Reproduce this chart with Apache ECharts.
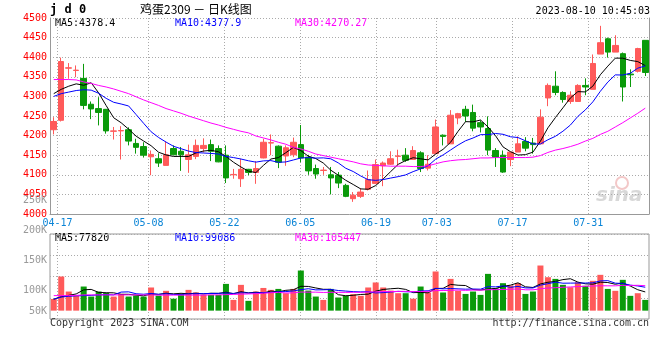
<!DOCTYPE html>
<html><head><meta charset="utf-8">
<script src="https://cdn.jsdelivr.net/npm/echarts@6/dist/echarts.min.js"></script>
<style>html,body{margin:0;padding:0;background:#fff}#c{width:660px;height:360px}</style>
</head><body><div id="c"></div>
<script>
const dates = ['04-14','04-17','04-18','04-19','04-20','04-21','04-24','04-25','04-26','04-27','04-28','05-04','05-05','05-08','05-09','05-10','05-11','05-12','05-15','05-16','05-17','05-18','05-19','05-22','05-23','05-24','05-25','05-26','05-29','05-30','05-31','06-01','06-02','06-05','06-06','06-07','06-08','06-09','06-12','06-13','06-14','06-15','06-16','06-19','06-20','06-21','06-26','06-27','06-28','06-29','06-30','07-03','07-04','07-05','07-06','07-07','07-10','07-11','07-12','07-13','07-14','07-17','07-18','07-19','07-20','07-21','07-24','07-25','07-26','07-27','07-28','07-31','08-01','08-02','08-03','08-04','08-07','08-08','08-09','08-10'];
const labelDates = ['04-17','05-08','05-22','06-05','06-19','07-03','07-17','07-31'];
const opens  = [4215,4239,4372,4366,4346,4280,4269,4267,4211,4212,4215,4180,4172,4146,4141,4124,4167,4160,4139,4147,4167,4177,4167,4150,4100,4090,4114,4106,4143,4181,4173,4148,4151,4177,4145,4116,4111,4100,4099,4073,4039,4045,4063,4078,4123,4127,4147,4150,4139,4156,4117,4154,4201,4179,4245,4267,4259,4233,4218,4162,4150,4139,4158,4185,4181,4179,4296,4326,4310,4287,4287,4328,4318,4408,4447,4413,4409,4357,4364,4443];
const closes = [4236,4389,4373,4367,4277,4268,4259,4212,4212,4213,4186,4170,4150,4152,4130,4151,4151,4151,4151,4175,4175,4160,4133,4092,4101,4114,4106,4116,4183,4182,4132,4169,4183,4143,4110,4102,4112,4092,4079,4045,4048,4056,4088,4126,4130,4141,4148,4137,4162,4116,4127,4222,4198,4252,4256,4250,4219,4222,4163,4145,4107,4158,4179,4168,4177,4247,4328,4310,4292,4303,4328,4324,4384,4437,4413,4430,4324,4355,4422,4361];
const lows   = [4203,4236,4345,4349,4267,4242,4226,4205,4190,4139,4175,4154,4144,4099,4120,4124,4151,4110,4105,4140,4157,4135,4132,4079,4090,4069,4099,4077,4142,4150,4117,4123,4145,4132,4100,4090,4100,4050,4066,4043,4031,4041,4060,4076,4071,4125,4124,4133,4139,4107,4111,4153,4175,4179,4229,4235,4211,4208,4150,4120,4105,4122,4158,4160,4154,4179,4275,4303,4284,4281,4287,4303,4318,4408,4399,4413,4287,4324,4361,4352];
const highs  = [4247,4399,4385,4379,4383,4287,4298,4268,4222,4224,4221,4192,4183,4162,4155,4185,4175,4171,4177,4190,4193,4190,4175,4175,4115,4141,4115,4135,4192,4203,4175,4175,4195,4227,4151,4126,4120,4120,4107,4077,4056,4066,4111,4139,4134,4160,4164,4168,4173,4160,4150,4241,4203,4265,4258,4276,4279,4239,4249,4168,4162,4158,4198,4196,4194,4267,4333,4364,4313,4313,4331,4346,4407,4480,4450,4456,4412,4369,4424,4443];
const ma5Early  = [4307,4318,4326,4332];
const ma10Early = [4300,4307,4311,4315,4317,4316,4308,4295,4285];
const ma30Line  = [4343,4343,4343,4342,4337,4333,4328,4324,4319,4313,4307,4299,4291,4284,4277,4269,4263,4257,4250,4244,4238,4232,4227,4221,4216,4211,4207,4199,4194,4189,4183,4178,4170,4166,4160,4153,4149,4145,4141,4137,4133,4128,4125,4124,4123,4122,4122,4122,4121,4121,4123,4128,4133,4136,4138,4139,4141,4143,4143,4144,4144,4144,4144,4144,4145,4149,4157,4163,4167,4172,4178,4186,4193,4203,4211,4222,4233,4245,4257,4270];
const volumes = [49000,143000,80000,62000,101000,59000,80000,74000,59000,70000,59000,63000,59000,97000,63000,83000,50000,70000,87000,76000,66000,66000,66000,112000,45000,108000,41000,80000,95000,87000,91000,73000,91000,168000,84000,59000,45000,91000,55000,62000,69000,62000,97000,118000,97000,84000,73000,73000,50000,101000,76000,164000,76000,133000,83000,70000,80000,66000,154000,94000,115000,105000,115000,70000,80000,189000,140000,133000,108000,98000,119000,104000,125000,150000,91000,83000,129000,62000,73000,45000];
const volMa5Early  = [48000,58000,64000,70000];
const volMa10Early = [48000,57000,60000,62000,63000,64000,66000,67000,66000];
const volMa30Early = [63000,63000,63000,64000,66000,66000,66000,66000,66000,66000,66000,66000,66000,66000,65000,65000,65000,65000,65000,65000,65000,66000,66000,67000,68000,69000,70000,71000,73000];
const priceTicks = [4000,4500,50];
const volTicks = ['50K','100K','150K','200K','250K'];
const legendMain = ['MA5:4378.4','MA10:4377.9','MA30:4270.27'];
const legendVol  = ['MA5:77820','MA10:99086','MA30:105447'];

function movingAvg(src, n, early) {
  return src.map((_, i) => {
    if (i < n - 1) return early[i];
    let s = 0; for (let k = i - n + 1; k <= i; k++) s += src[k];
    return +(s / n).toFixed(2);
  });
}
const UP = '#ff5a5a', DOWN = '#0a9a0a', GRIDC = '#aaaaaa', MONO = 'DejaVu Sans Mono';
const candles = dates.map((d, i) => [opens[i], closes[i], lows[i], highs[i]]);
const volBars = volumes.map((v, i) => ({ value: v, itemStyle: { color: closes[i] >= opens[i] ? UP : DOWN } }));
const isLabel = (idx, val) => labelDates.indexOf(val) >= 0;
const dotted = { type: [1, 2], color: GRIDC, width: 1 };

const chart = echarts.init(document.getElementById('c'), null, { renderer: 'canvas' });
chart.setOption({
  animation: false,
  backgroundColor: '#ffffff',
  grid: [
    { left: 50, top: 18, width: 599, height: 196 },
    { left: 50, top: 234, width: 599, height: 85, show: true, borderColor: '#999', borderWidth: 1 },
    { left: 50, top: 200.3, width: 599, height: 120.8 }
  ],
  xAxis: [
    { gridIndex: 0, type: 'category', data: dates, boundaryGap: true, show: false },
    { gridIndex: 0, type: 'category', position: 'bottom', data: dates, boundaryGap: false,
      axisLine: { show: true, onZero: false, lineStyle: { color: '#999' } }, axisTick: { show: false },
      axisLabel: { interval: isLabel, color: '#0a84d6', fontFamily: MONO, fontSize: 10, margin: 4 },
      splitLine: { show: true, interval: isLabel, lineStyle: dotted } },
    { gridIndex: 1, type: 'category', data: dates, boundaryGap: true, show: false },
    { gridIndex: 1, type: 'category', position: 'bottom', data: dates, boundaryGap: false,
      axisLine: { show: false }, axisTick: { show: false }, axisLabel: { show: false },
      splitLine: { show: true, interval: isLabel, lineStyle: dotted } },
    { gridIndex: 2, type: 'category', data: dates, show: false }
  ],
  yAxis: [
    { gridIndex: 0, type: 'value', min: priceTicks[0], max: priceTicks[1], interval: priceTicks[2],
      axisLine: { show: true, lineStyle: { color: '#999' } }, axisTick: { show: false },
      axisLabel: { color: '#ff0000', fontFamily: MONO, fontSize: 10, margin: 3, formatter: v => String(v) },
      splitLine: { show: true, lineStyle: dotted } },
    { gridIndex: 0, type: 'value', position: 'right', min: 0, max: 1,
      axisLine: { show: true, lineStyle: { color: '#999' } }, axisTick: { show: false },
      axisLabel: { show: false }, splitLine: { show: false } },
    { gridIndex: 1, type: 'value', min: -35000, max: 321000, show: false, splitLine: { show: false } },
    { gridIndex: 1, type: 'value', min: 0, max: 4, interval: 1,
      axisLine: { show: false }, axisTick: { show: false }, axisLabel: { show: false },
      splitLine: { show: true, lineStyle: dotted } },
    { gridIndex: 2, type: 'value', min: 50000, max: 250000, interval: 50000,
      axisLine: { show: false }, axisTick: { show: false }, splitLine: { show: false },
      axisLabel: { color: '#999', fontFamily: MONO, fontSize: 10, margin: 3,
        formatter: v => { const t = volTicks[(v - 50000) / 50000]; return v === 50000 ? '{lo|' + t + '}' : t; },
        rich: { lo: { color: '#999', fontFamily: MONO, fontSize: 10, padding: [0, 0, 20, 0] } } } }
  ],
  series: [
    { type: 'candlestick', xAxisIndex: 0, yAxisIndex: 0, data: candles, barWidth: 6,
      itemStyle: { color: UP, color0: DOWN, borderColor: UP, borderColor0: DOWN, borderWidth: 1 } },
    { type: 'line', xAxisIndex: 0, yAxisIndex: 0, data: movingAvg(closes, 5, ma5Early), showSymbol: false, lineStyle: { color: '#000', width: 1 } },
    { type: 'line', xAxisIndex: 0, yAxisIndex: 0, data: movingAvg(closes, 10, ma10Early), showSymbol: false, lineStyle: { color: '#0000ff', width: 1 } },
    { type: 'line', xAxisIndex: 0, yAxisIndex: 0, data: ma30Line, showSymbol: false, lineStyle: { color: '#ff00ff', width: 1 } },
    { type: 'bar', xAxisIndex: 2, yAxisIndex: 2, data: volBars, barWidth: 6 },
    { type: 'line', xAxisIndex: 2, yAxisIndex: 2, data: movingAvg(volumes, 5, volMa5Early), showSymbol: false, lineStyle: { color: '#000', width: 1 } },
    { type: 'line', xAxisIndex: 2, yAxisIndex: 2, data: movingAvg(volumes, 10, volMa10Early), showSymbol: false, lineStyle: { color: '#0000ff', width: 1 } },
    { type: 'line', xAxisIndex: 2, yAxisIndex: 2, data: movingAvg(volumes, 30, volMa30Early), showSymbol: false, lineStyle: { color: '#ff00ff', width: 1 } }
  ],
  graphic: [
    { type: 'text', left: 50, top: 4, style: { text: 'j d 0', font: 'bold 12px "DejaVu Sans Mono"', fill: '#000' } },
    { type: 'text', left: 140, top: 3, style: { text: '鸡蛋2309 － 日K线图', font: '12px "Noto Sans CJK SC"', fill: '#000' } },
    { type: 'text', right: 10, top: 6, style: { text: '2023-08-10 10:45:03', font: '10px "DejaVu Sans Mono"', fill: '#000' } },
    { type: 'text', left: 55, top: 18, style: { text: legendMain[0], font: '10px "DejaVu Sans Mono"', fill: '#000' } },
    { type: 'text', left: 175, top: 18, style: { text: legendMain[1], font: '10px "DejaVu Sans Mono"', fill: '#0000ff' } },
    { type: 'text', left: 295, top: 18, style: { text: legendMain[2], font: '10px "DejaVu Sans Mono"', fill: '#ff00ff' } },
    { type: 'text', left: 55, top: 233, style: { text: legendVol[0], font: '10px "DejaVu Sans Mono"', fill: '#000' } },
    { type: 'text', left: 175, top: 233, style: { text: legendVol[1], font: '10px "DejaVu Sans Mono"', fill: '#0000ff' } },
    { type: 'text', left: 295, top: 233, style: { text: legendVol[2], font: '10px "DejaVu Sans Mono"', fill: '#ff00ff' } },
    { type: 'text', left: 50, top: 318, style: { text: 'Copyright 2023 SINA.COM', font: '10px "DejaVu Sans Mono"', fill: '#333' } },
    { type: 'text', right: 11, top: 318, style: { text: 'http://finance.sina.com.cn', font: '10px "DejaVu Sans Mono"', fill: '#333' } },
    { type: 'text', left: 596, top: 186, style: { text: 'sina', font: 'italic bold 20px "DejaVu Sans"', fill: '#d8d8d8' } },
    { type: 'circle', shape: { cx: 622, cy: 183, r: 6 }, style: { fill: 'none', stroke: '#f3c8c8', lineWidth: 2 } }
  ]
});
</script></body></html>
